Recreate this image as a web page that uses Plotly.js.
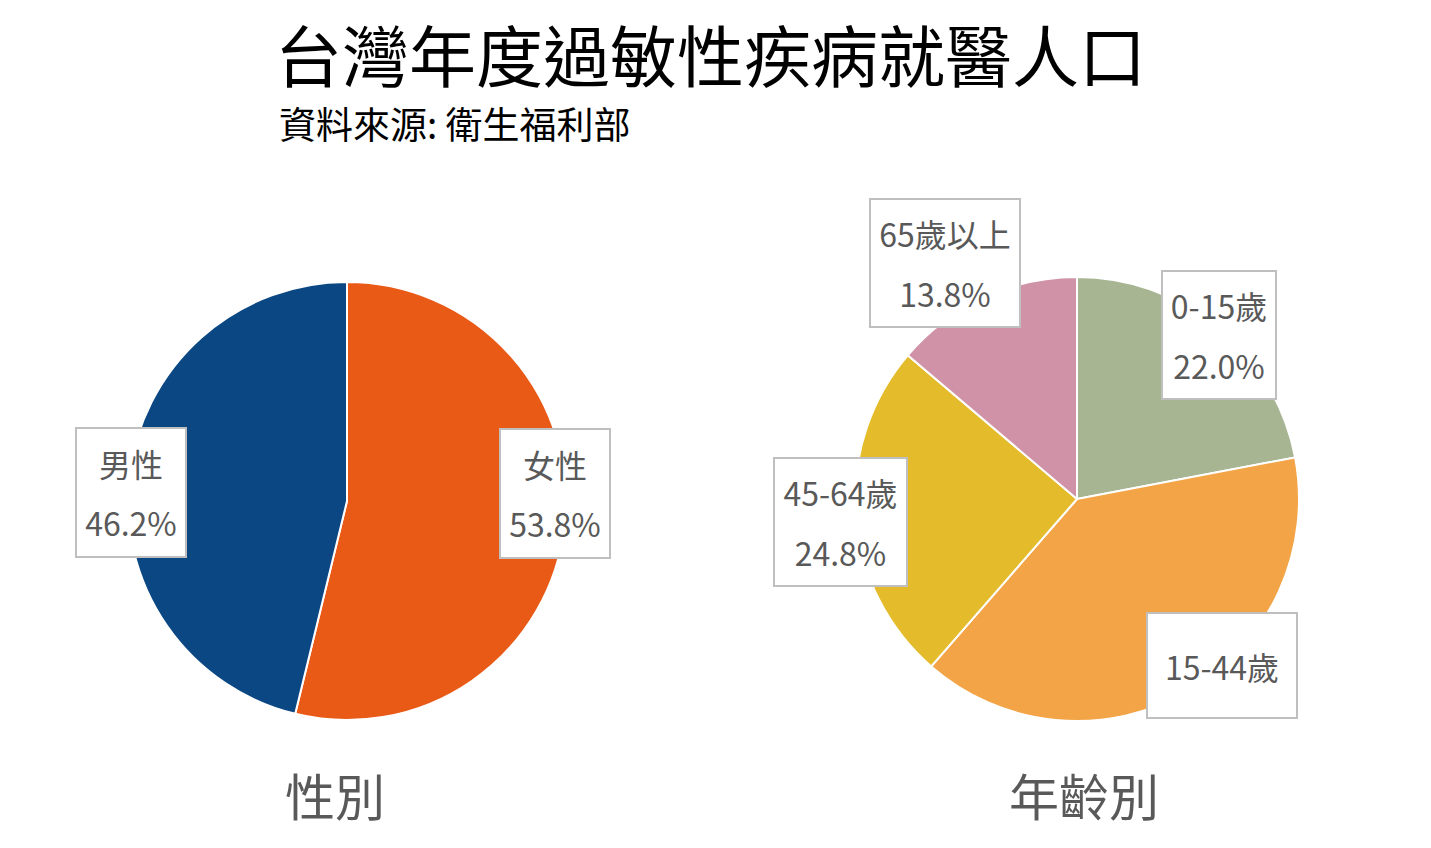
<!DOCTYPE html>
<html>
<head>
<meta charset="utf-8">
<script src="https://cdn.plot.ly/plotly-3.0.1.min.js"></script>
<style>
html,body{margin:0;padding:0;background:#fff;}
#chart{width:1431px;height:848px;}
</style>
</head>
<body>
<div id="chart"></div>
<script>
// ---- data ----
const genderLabels = ['女性', '男性'];
const genderValues = [53.8, 46.2];
const genderColors = ['#e95a17', '#0a4783'];

const ageLabels = ['0-15歲', '15-44歲', '45-64歲', '65歲以上'];
const ageValues = [22.0, 39.4, 24.8, 13.8];
const ageColors = ['#a7b592', '#f2a446', '#e4bb2a', '#d092a7'];

const titleText = '台灣年度過敏性疾病就醫人口';
const subtitleText = '資料來源: 衛生福利部';
const genderTitle = '性別';
const ageTitle = '年齡別';

// ---- layout helpers ----
const W = 1431, H = 848;
const FONT = '"Noto Sans CJK TC", "Noto Sans", sans-serif';
const px = x => x / W;
const py = y => 1 - y / H;

const traces = [
  {
    type: 'pie', labels: genderLabels, values: genderValues,
    marker: {colors: genderColors, line: {color: '#ffffff', width: 2}},
    sort: false, direction: 'clockwise', rotation: 0,
    textinfo: 'none', hoverinfo: 'none', showlegend: false,
    domain: {x: [px(128), px(566)], y: [py(720), py(282)]}
  },
  {
    type: 'pie', labels: ageLabels, values: ageValues,
    marker: {colors: ageColors, line: {color: '#ffffff', width: 2}},
    sort: false, direction: 'clockwise', rotation: 0,
    textinfo: 'none', hoverinfo: 'none', showlegend: false,
    domain: {x: [px(855), px(1299)], y: [py(721), py(277)]}
  }
];

// label boxes (centre x, centre y, width, height, show percent)
const genderBoxes = [
  {cx: 554.5, cy: 494, w: 108, h: 127, pct: true},
  {cx: 130.5, cy: 492, w: 108, h: 127, pct: true}
];
const ageBoxes = [
  {cx: 1218.5, cy: 335.5, w: 112, h: 126, pct: true},
  {cx: 1221.5, cy: 665, w: 148, h: 103, pct: false},
  {cx: 840, cy: 521.5, w: 131, h: 126, pct: true},
  {cx: 944.5, cy: 262.5, w: 148, h: 126, pct: true}
];

const annotations = [];
function addLabels(labels, values, boxes) {
  labels.forEach((lab, i) => {
    const b = boxes[i];
    const txt = b.pct
      ? '<span style="font-size:32px">' + lab + '</span><br><span style="font-size:32px">' + values[i].toFixed(1) + '%</span>'
      : '<span style="font-size:32px">' + lab + '</span>';
    annotations.push({
      xref: 'paper', yref: 'paper', x: px(b.cx), y: py(b.cy),
      xanchor: 'center', yanchor: 'middle', showarrow: false,
      text: txt, width: b.w, height: b.h, align: 'center', valign: 'middle',
      bgcolor: '#ffffff', bordercolor: '#bfbfbf', borderwidth: 2, borderpad: 0,
      font: {family: FONT, size: 46, color: '#595959'}
    });
  });
}
addLabels(genderLabels, genderValues, genderBoxes);
addLabels(ageLabels, ageValues, ageBoxes);

annotations.push(
  {xref: 'paper', yref: 'paper', x: px(273), y: py(52), xanchor: 'left', yanchor: 'middle',
   showarrow: false, text: titleText, font: {family: FONT, size: 67, color: '#000000'}},
  {xref: 'paper', yref: 'paper', x: px(277), y: py(123), xanchor: 'left', yanchor: 'middle',
   showarrow: false, text: subtitleText, font: {family: FONT, size: 37, color: '#000000'}},
  {xref: 'paper', yref: 'paper', x: px(335), y: py(794), xanchor: 'center', yanchor: 'middle',
   showarrow: false, text: genderTitle, font: {family: FONT, size: 50, color: '#595959'}},
  {xref: 'paper', yref: 'paper', x: px(1084), y: py(794), xanchor: 'center', yanchor: 'middle',
   showarrow: false, text: ageTitle, font: {family: FONT, size: 50, color: '#595959'}}
);

const layout = {
  width: W, height: H,
  margin: {l: 0, r: 0, t: 0, b: 0},
  paper_bgcolor: '#ffffff',
  font: {family: FONT},
  annotations: annotations
};

Plotly.newPlot('chart', traces, layout, {displayModeBar: false, staticPlot: true});
</script>
</body>
</html>
